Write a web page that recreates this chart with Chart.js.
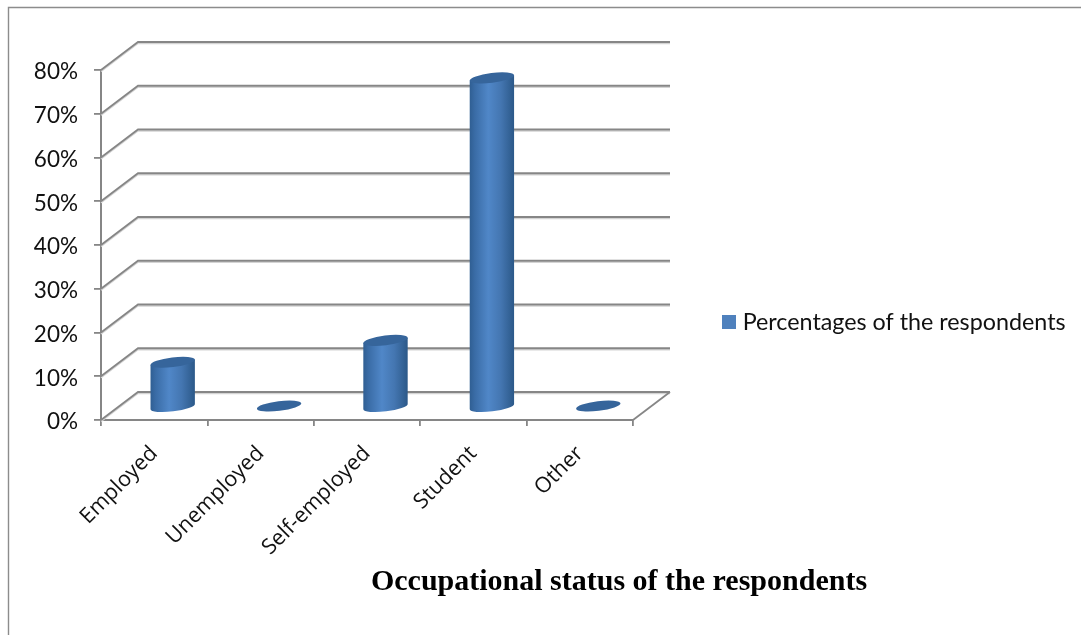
<!DOCTYPE html>
<html>
<head>
<meta charset="utf-8">
<style>html,body{margin:0;padding:0;background:#fff}#box{position:relative;width:1081px;height:635px}</style>
<script src="https://cdn.jsdelivr.net/npm/chart.js@4/dist/chart.umd.js"></script>
</head>
<body>
<div id="box"><canvas id="c" width="1081" height="635"></canvas></div>
<script>
const categories = ["Employed", "Unemployed", "Self-employed", "Student", "Other"];
const percentages = [10, 0, 15, 75, 0];
const seriesName = "Percentages of the respondents";
const chartTitle = "Occupational status of the respondents";

const GRID = "#868686", DX = 37, DY = -28;

// Cylinders: the library's bar element paints a cylinder at the position its scales computed.
Chart.BarElement.prototype.draw = function (ctx) {
  const rx = this.width / 2, ry = 4.8, rot = -7 * Math.PI / 180;
  const cx = this.x + DX / 2, top = this.y + DY / 2, bot = this.base + DY / 2;
  const ex = rx * Math.cos(rot), ey = rx * Math.sin(rot);
  ctx.save();
  if (bot - top > 0.5) {
    const g = ctx.createLinearGradient(cx - rx, 0, cx + rx, 0);
    g.addColorStop(0, "#2f5e92");
    g.addColorStop(0.12, "#3a6ca6");
    g.addColorStop(0.42, "#5087c8");
    g.addColorStop(0.7, "#4476b1");
    g.addColorStop(1, "#2b5888");
    ctx.beginPath();
    ctx.moveTo(cx - ex, top - ey);
    ctx.ellipse(cx, bot + 1.5, rx, ry, rot, Math.PI, 0, true);
    ctx.lineTo(cx + ex, top + ey);
    ctx.closePath();
    ctx.fillStyle = g;
    ctx.fill();
  }
  ctx.beginPath();
  ctx.ellipse(cx, top, rx, ry, rot, 0, Math.PI * 2);
  ctx.fillStyle = "#36659b";
  ctx.fill();
  ctx.restore();
};

const frame3d = {
  id: "frame3d",
  afterLayout(chart) {
    const t = chart.titleBlock, l = chart.legend;
    const tw = t.right - t.left, th = t.bottom - t.top;
    t.left = 619 - tw / 2; t.right = t.left + tw;
    t.top = 582 - th / 2; t.bottom = t.top + th;
    l.left = 721; l.right = 1081;
    l.top = 302; l.bottom = 342;
  },
  beforeDraw(chart) {
    const ctx = chart.ctx;
    chart.scales.y.getLabelItems().forEach(item => {
      if (!item.nudged) { item.options.translation[1] += 2; item.nudged = true; }
    });
    ctx.save();
    ctx.strokeStyle = "#8c8c8c";
    ctx.lineWidth = 1.4;
    ctx.beginPath();
    ctx.moveTo(8.5, 635); ctx.lineTo(8.5, 7.5); ctx.lineTo(1081, 7.5);
    ctx.stroke();
    ctx.restore();
  },
  beforeDatasetsDraw(chart) {
    const ctx = chart.ctx, x = chart.scales.x, y = chart.scales.y;
    const left = x.left, right = x.right;
    ctx.save();
    ctx.lineCap = "butt";
    y.ticks.forEach(t => {
      const py = y.getPixelForValue(t.value);
      [["#d4d4d4", 1.5], [GRID, 0]].forEach(([col, off]) => {
        ctx.strokeStyle = col;
        ctx.lineWidth = off ? 1.5 : 1.8;
        ctx.beginPath();
        ctx.moveTo(left, py + off);
        ctx.lineTo(left + DX, py + DY + off);
        ctx.lineTo(right + DX, py + DY + off);
        ctx.stroke();
      });
    });
    const p0 = y.getPixelForValue(0);
    ctx.strokeStyle = GRID;
    ctx.lineWidth = 1.8;
    ctx.beginPath();
    ctx.moveTo(right, p0);
    ctx.lineTo(right + DX, p0 + DY);
    ctx.stroke();
    ctx.restore();
  }
};

const swatch = document.createElement("canvas");
swatch.width = 14; swatch.height = 14;
const sc = swatch.getContext("2d");
sc.fillStyle = "#4f81bd"; sc.fillRect(0, 0, 14, 14);

new Chart(document.getElementById("c"), {
  type: "bar",
  data: {
    labels: categories,
    datasets: [{
      label: seriesName,
      data: percentages,
      backgroundColor: "#4f81bd",
      barPercentage: 0.42,
      categoryPercentage: 1,
      clip: false
    }]
  },
  plugins: [frame3d],
  options: {
    responsive: false,
    animation: false,
    layout: { padding: { left: 0, top: 70, right: 237, bottom: 0 } },
    plugins: {
      tooltip: { enabled: false },
      legend: {
        position: "right",
        labels: {
          usePointStyle: true,
          pointStyle: swatch,
          pointStyleWidth: 4,
          boxHeight: 14,
          padding: 6,
          color: "#111",
          font: { family: "Lato", size: 23.3 }
        }
      },
      title: {
        display: true,
        text: chartTitle,
        position: "bottom",
        color: "#000",
        padding: 0,
        font: { family: "Liberation Serif", size: 30, weight: "bold" }
      }
    },
    scales: {
      x: {
        offset: true,
        grid: { display: true, offset: true, drawOnChartArea: false, drawTicks: true, tickLength: 6, color: GRID, lineWidth: 1.8 },
        border: { display: true, color: GRID, width: 2 },
        ticks: {
          minRotation: 45, maxRotation: 45, padding: 15,
          color: "#111",
          font: { family: "Open Sans", size: 21.5 }
        },
        afterFit(s) { s.height = 179; }
      },
      y: {
        min: 0, max: 80,
        grid: { display: true, drawOnChartArea: false, drawTicks: true, tickLength: 7, color: GRID, lineWidth: 1.8 },
        border: { display: true, color: GRID, width: 2 },
        ticks: {
          stepSize: 10, padding: 16,
          color: "#111",
          font: { family: "Lato", size: 22.5 },
          callback: v => v + "%"
        },
        afterFit(s) { s.width = 101; }
      }
    }
  }
});
</script>
</body>
</html>
